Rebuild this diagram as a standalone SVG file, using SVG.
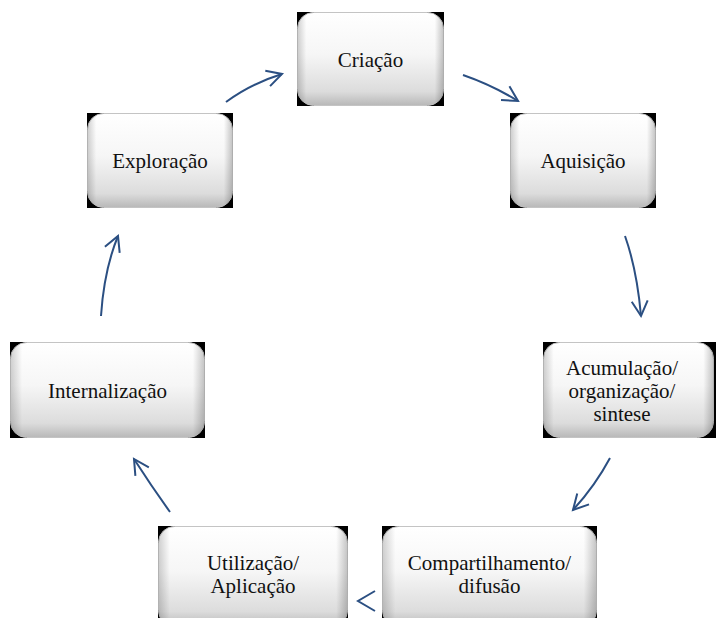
<svg xmlns="http://www.w3.org/2000/svg" width="716" height="618" viewBox="0 0 716 618">
<defs>
<linearGradient id="gv" x1="0" y1="0" x2="0" y2="1">
<stop offset="0" stop-color="#ffffff"/>
<stop offset="0.45" stop-color="#f6f6f6"/>
<stop offset="0.85" stop-color="#dcdcdc"/>
<stop offset="1" stop-color="#b8b8b8"/>
</linearGradient>
<linearGradient id="gh" x1="0" y1="0" x2="1" y2="0">
<stop offset="0" stop-color="#000" stop-opacity="0.18"/>
<stop offset="0.06" stop-color="#000" stop-opacity="0"/>
<stop offset="0.94" stop-color="#000" stop-opacity="0"/>
<stop offset="1" stop-color="#000" stop-opacity="0.22"/>
</linearGradient>
<marker id="ah" viewBox="0 0 20 20" refX="17" refY="10" markerWidth="20" markerHeight="20" markerUnits="userSpaceOnUse" orient="auto">
<path d="M2,2 L17,10 L2,18" fill="none" stroke="#2b4f82" stroke-width="2"/>
</marker>
</defs>
<style>
.bg{fill:#000}
.bx{fill:url(#gv);stroke:#c4c4c4;stroke-width:1}
.sh{fill:url(#gh)}
.t{font-family:"Liberation Serif","Times New Roman",serif;font-size:21px;fill:#111;text-anchor:middle}
.c{fill:none;stroke:#2b4f82;stroke-width:2;marker-end:url(#ah)}
.h{fill:none;stroke:#2b4f82;stroke-width:2}
</style>
<rect width="716" height="618" fill="#fff"/>
<g id="criacao">
<rect class="bg" x="297" y="12" width="147" height="94"/>
<rect class="bx" x="297.5" y="12.5" width="146" height="93" rx="16"/>
<rect class="sh" x="297.5" y="12.5" width="146" height="93" rx="16"/>
<text class="t" x="370.5" y="67">Criação</text>
</g>
<g id="exploracao">
<rect class="bg" x="87" y="113" width="146" height="95"/>
<rect class="bx" x="87.5" y="113.5" width="145" height="94" rx="16"/>
<rect class="sh" x="87.5" y="113.5" width="145" height="94" rx="16"/>
<text class="t" x="160" y="168">Exploração</text>
</g>
<g id="aquisicao">
<rect class="bg" x="510" y="113" width="146" height="95"/>
<rect class="bx" x="510.5" y="113.5" width="145" height="94" rx="16"/>
<rect class="sh" x="510.5" y="113.5" width="145" height="94" rx="16"/>
<text class="t" x="583" y="168">Aquisição</text>
</g>
<g id="acumulacao">
<rect class="bg" x="543" y="342" width="173" height="96"/>
<rect class="bx" x="543.5" y="342.5" width="170" height="95" rx="16"/>
<rect class="sh" x="543.5" y="342.5" width="170" height="95" rx="16"/>
<text class="t" x="622" y="375">Acumulação/</text>
<text class="t" x="622" y="398">organização/</text>
<text class="t" x="622" y="421">sintese</text>
</g>
<g id="compartilhamento">
<rect class="bg" x="382" y="526" width="215" height="92"/>
<rect class="bx" x="382.5" y="526.5" width="214" height="100" rx="16"/>
<rect class="sh" x="382.5" y="526.5" width="214" height="100" rx="16"/>
<text class="t" x="489.5" y="570">Compartilhamento/</text>
<text class="t" x="489.5" y="593">difusão</text>
</g>
<g id="utilizacao">
<rect class="bg" x="158" y="526" width="190" height="92"/>
<rect class="bx" x="158.5" y="526.5" width="189" height="100" rx="16"/>
<rect class="sh" x="158.5" y="526.5" width="189" height="100" rx="16"/>
<text class="t" x="253" y="570">Utilização/</text>
<text class="t" x="253" y="593">Aplicação</text>
</g>
<g id="internalizacao">
<rect class="bg" x="10" y="342" width="195" height="96"/>
<rect class="bx" x="10.5" y="342.5" width="194" height="95" rx="16"/>
<rect class="sh" x="10.5" y="342.5" width="194" height="95" rx="16"/>
<text class="t" x="107.5" y="398">Internalização</text>
</g>
<g id="connectors">
<path class="c" d="M226,102 Q250,84 282,74"/>
<path class="c" d="M463,75 Q492,85 518,101"/>
<path class="c" d="M625,236 Q637,270 641,316"/>
<path class="c" d="M610,458 Q595,486 573,510"/>
<path class="h" d="M375,591 L358,601 L375,611"/>
<path class="c" d="M170,512 Q152,487 134,459"/>
<path class="c" d="M101,316 Q104,270 118,236"/>
</g>
</svg>
